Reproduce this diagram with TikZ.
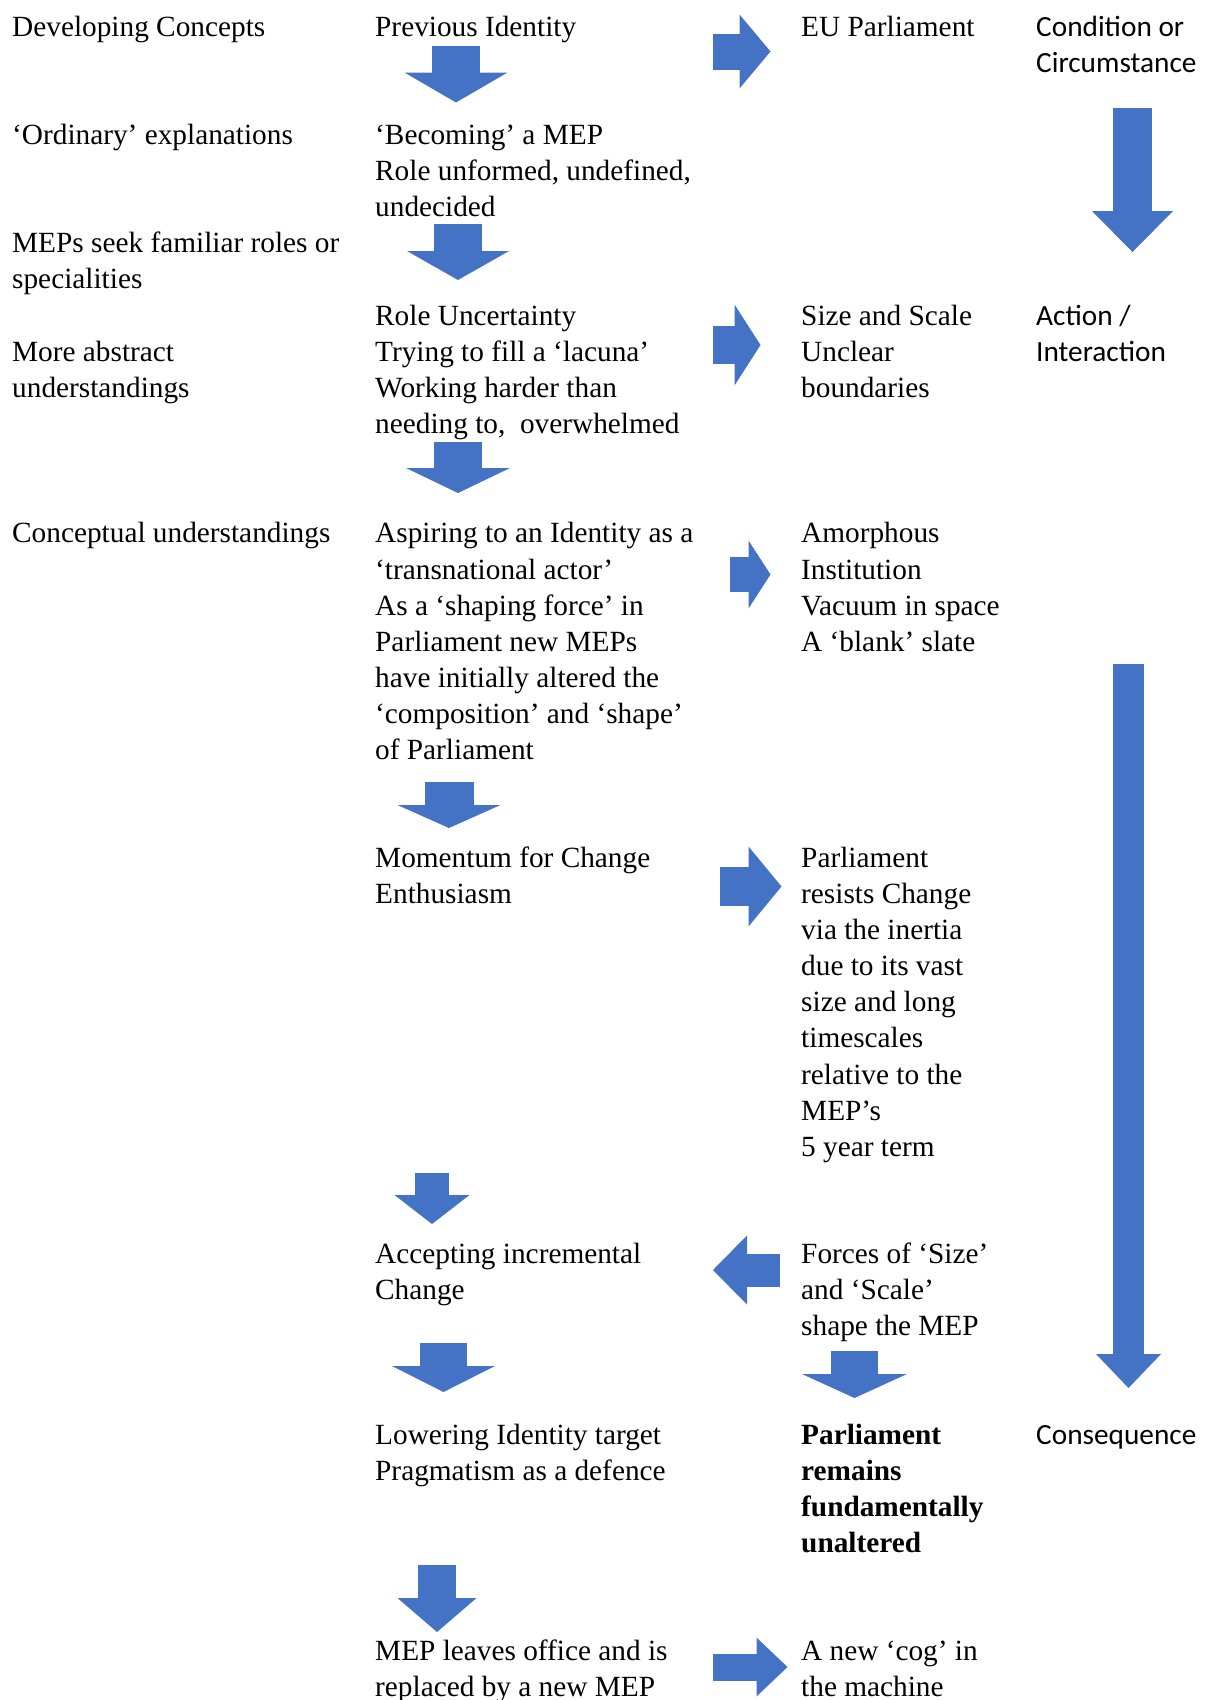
\documentclass[tikz,border=0pt]{standalone}
\usepackage{fontspec}
\setmainfont{Liberation Serif}
\newfontfamily\calib{Carlito}
\usetikzlibrary{arrows.meta}
\definecolor{arrowblue}{HTML}{4472C4}
\tikzset{
	txt/.style={anchor=north west, inner sep=0pt, align=left, font=\fontsize{29.3}{36.1}\selectfont},
	sans/.style={txt, font=\calib\fontsize{29.3}{36.1}\selectfont},
	blk/.style n args={3}{draw=arrowblue, line width=#1, -{Triangle[width=#2, length=#3, line width=0pt]}}
}
\begin{document}
\begin{tikzpicture}[x=1pt,y=-1pt]
			\useasboundingbox (0,0) rectangle (1206,1700);
			% left column
			\node[txt] (devcon) at (12,10.8) {\strut Developing Concepts};
			\node[txt] (ordinary) at (12,119.1) {\strut ‘Ordinary’ explanations};
			\node[txt] (familiar) at (12,227.4) {\strut MEPs seek familiar roles or\\specialities};
			\node[txt] (abstract) at (12,335.7) {\strut More abstract\\understandings};
			\node[txt] (conceptual) at (12,517.5) {\strut Conceptual understandings};
			% MEP column
			\node[txt] (previd) at (375,10.8) {\strut Previous Identity};
			\node[txt] (becoming) at (375,119.1) {\strut ‘Becoming’ a MEP\\Role unformed, undefined,\\undecided};
			\node[txt] (roleunc) at (375,299.6) {\strut Role Uncertainty\\Trying to fill a ‘lacuna’\\Working harder than\\needing to,\ \ overwhelmed};
			\node[txt] (aspiring) at (375,517.5) {\strut Aspiring to an Identity as a\\‘transnational actor’\\As a ‘shaping force’ in\\Parliament new MEPs\\have initially altered the\\‘composition’ and ‘shape’\\of Parliament};
			\node[txt] (momentum) at (375,842) {\strut Momentum for Change\\Enthusiasm};
			\node[txt] (accepting) at (375,1238.2) {\strut Accepting incremental\\Change};
			\node[txt] (lowering) at (375,1418.7) {\strut Lowering Identity target\\Pragmatism as a defence};
			\node[txt] (leaves) at (375,1635.3) {\strut MEP leaves office and is\\replaced by a new MEP};
			% Parliament column
			\node[txt] (eupar) at (801,10.8) {\strut EU Parliament};
			\node[txt] (sizescale) at (801,299.6) {\strut Size and Scale\\Unclear\\boundaries};
			\node[txt] (amorph) at (801,517.5) {\strut Amorphous\\Institution\\Vacuum in space\\A ‘blank’ slate};
			\node[txt] (resists) at (801,842) {\strut Parliament\\resists Change\\via the inertia\\due to its vast\\size and long\\timescales\\relative to the\\MEP’s\\5 year term};
			\node[txt] (forces) at (801,1238.2) {\strut Forces of ‘Size’\\and ‘Scale’\\shape the MEP};
			\node[txt,font=\bfseries\fontsize{29.3}{36.1}\selectfont] (unaltered) at (801,1418.7) {\strut Parliament\\remains\\fundamentally\\unaltered};
			\node[txt] (cog) at (801,1635.3) {\strut A new ‘cog’ in\\the machine};
			% stages
			\node[sans] (condition) at (1036,10.8) {\strut Condition or\\Circumstance};
			\node[sans] (action) at (1036,299.6) {\strut Action /\\Interaction};
			\node[sans] (consequence) at (1036,1418.7) {\strut Consequence};
			% block arrows
			\coordinate (a1s) at (456,46); \coordinate (a1e) at (456,102.5);
			\coordinate (a2s) at (713,51.5); \coordinate (a2e) at (770.5,51.5);
			\coordinate (a3s) at (1132.5,108); \coordinate (a3e) at (1132.5,252);
			\coordinate (a4s) at (458,224); \coordinate (a4e) at (458,280);
			\coordinate (a5s) at (713,345); \coordinate (a5e) at (760.5,345);
			\coordinate (a6s) at (458,442); \coordinate (a6e) at (458,493);
			\coordinate (a7s) at (730,574.5); \coordinate (a7e) at (770.5,574.5);
			\coordinate (a8s) at (1128.5,664); \coordinate (a8e) at (1128.5,1388);
			\coordinate (a9s) at (449,782); \coordinate (a9e) at (449,828);
			\coordinate (a10s) at (720,886.5); \coordinate (a10e) at (781.5,886.5);
			\coordinate (a11s) at (432,1173); \coordinate (a11e) at (432,1224);
			\coordinate (a12s) at (780,1270); \coordinate (a12e) at (713,1270);
			\coordinate (a13s) at (443.5,1343); \coordinate (a13e) at (443.5,1392);
			\coordinate (a14s) at (854.5,1351); \coordinate (a14e) at (854.5,1398);
			\coordinate (a15s) at (437,1565); \coordinate (a15e) at (437,1632);
			\coordinate (a16s) at (713,1667); \coordinate (a16e) at (787.5,1667);
			\path (a1s) edge[blk={48pt}{103pt}{30pt}] (a1e);
			\path (a2s) edge[blk={36pt}{74pt}{31pt}] (a2e);
			\path (a3s) edge[blk={39pt}{81pt}{41pt}] (a3e);
			\path (a4s) edge[blk={48pt}{102pt}{29pt}] (a4e);
			\path (a5s) edge[blk={38pt}{81pt}{26pt}] (a5e);
			\path (a6s) edge[blk={48pt}{104pt}{25pt}] (a6e);
			\path (a7s) edge[blk={35pt}{68pt}{22pt}] (a7e);
			\path (a8s) edge[blk={31pt}{65pt}{34pt}] (a8e);
			\path (a9s) edge[blk={49pt}{103pt}{23pt}] (a9e);
			\path (a10s) edge[blk={39pt}{80pt}{33pt}] (a10e);
			\path (a11s) edge[blk={34pt}{75pt}{29pt}] (a11e);
			\path (a12s) edge[blk={33pt}{69pt}{34pt}] (a12e);
			\path (a13s) edge[blk={47pt}{103pt}{26pt}] (a13e);
			\path (a14s) edge[blk={47pt}{105pt}{24pt}] (a14e);
			\path (a15s) edge[blk={38pt}{79pt}{34pt}] (a15e);
			\path (a16s) edge[blk={27pt}{59pt}{31pt}] (a16e);
		\end{tikzpicture}
\end{document}
